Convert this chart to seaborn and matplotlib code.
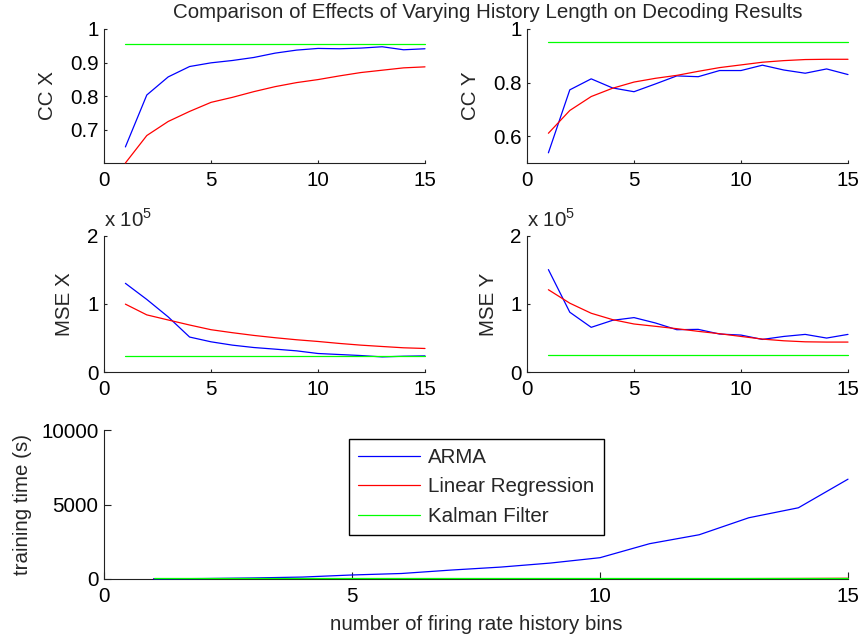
import numpy as np
import pandas as pd
import matplotlib
matplotlib.use("Agg")
import matplotlib.pyplot as plt
from matplotlib.colors import to_hex
from matplotlib.ticker import FuncFormatter
import seaborn as sns

# history length (bins)
bins = list(range(1, 16))
methods = ["ARMA", "Linear Regression", "Kalman Filter"]
colors = ["#0000ff", "#ff0000", "#00ff00"]

cc_x_arma = [0.648, 0.803, 0.857, 0.888, 0.899, 0.906, 0.915, 0.928, 0.937, 0.942, 0.941, 0.943, 0.947, 0.938, 0.941]
cc_x_lr = [0.600, 0.682, 0.724, 0.754, 0.781, 0.796, 0.813, 0.828, 0.840, 0.849, 0.860, 0.870, 0.877, 0.884, 0.887]
cc_x_kf = [0.955] * 15

cc_y_arma = [0.538, 0.773, 0.814, 0.780, 0.766, 0.795, 0.825, 0.822, 0.845, 0.845, 0.865, 0.847, 0.835, 0.851, 0.830]
cc_y_lr = [0.611, 0.696, 0.748, 0.779, 0.802, 0.816, 0.827, 0.842, 0.856, 0.866, 0.876, 0.882, 0.886, 0.887, 0.887]
cc_y_kf = [0.952] * 15

mse_x_arma = [130400, 106700, 81000, 51400, 44400, 39500, 36000, 33600, 31100, 27200, 25700, 24200, 22200, 23200, 23700]
mse_x_lr = [99800, 84000, 76500, 69100, 62200, 57800, 53800, 50400, 47400, 44900, 42000, 39500, 37500, 35600, 34600]
mse_x_kf = [23200] * 15

mse_y_arma = [150600, 87900, 65700, 76000, 80000, 72100, 62200, 62700, 55800, 54300, 47900, 52300, 55300, 49900, 55300]
mse_y_lr = [121000, 101200, 86400, 77000, 70600, 67200, 63700, 59800, 56300, 52300, 48400, 45900, 44400, 44000, 44000]
mse_y_kf = [24700] * 15

time_arma = [10, 30, 70, 130, 270, 370, 600, 800, 1070, 1430, 2370, 2970, 4110, 4780, 6700]
time_lr = [5, 5, 6, 6, 7, 8, 9, 10, 12, 14, 17, 21, 27, 35, 48]
time_kf = [35] * 15

# drawing order: Kalman on top, then ARMA, then linear regression
line_z = {"#0000ff": 3.5, "#ff0000": 2.0, "#00ff00": 4.0}


def long_frame(arma, lr, kf):
    return pd.DataFrame({
        "bins": bins * 3,
        "value": list(arma) + list(lr) + list(kf),
        "method": [m for m in methods for _ in bins],
    })


sns.set_theme(style="ticks")
plt.rcParams["font.family"] = ["Liberation Sans", "DejaVu Sans"]
plt.rcParams["mathtext.fontset"] = "custom"
plt.rcParams["mathtext.rm"] = "Liberation Sans"
plt.rcParams["axes.linewidth"] = 0.8
plt.rcParams["axes.edgecolor"] = "#222222"
FS = 14.8

W, H = 862, 636
fig = plt.figure(figsize=(W / 100, H / 100), dpi=100)


def add_ax(x0, y0, x1, y1):
    return fig.add_axes([x0 / W, 1 - y1 / H, (x1 - x0) / W, (y1 - y0) / H])


ax1 = add_ax(104, 29, 425, 163)
ax2 = add_ax(527, 29, 848, 163)
ax3 = add_ax(104, 236, 425, 372)
ax4 = add_ax(527, 236, 848, 372)
ax5 = add_ax(104, 430, 848, 579)

panels = [
    (ax1, long_frame(cc_x_arma, cc_x_lr, cc_x_kf), "CC X", (0.6, 1), [0.7, 0.8, 0.9, 1.0], -0.175),
    (ax2, long_frame(cc_y_arma, cc_y_lr, cc_y_kf), "CC Y", (0.5, 1), [0.6, 0.8, 1.0], -0.175),
    (ax3, long_frame(mse_x_arma, mse_x_lr, mse_x_kf), "MSE X", (0, 2e5), [0, 1e5, 2e5], -0.122),
    (ax4, long_frame(mse_y_arma, mse_y_lr, mse_y_kf), "MSE Y", (0, 2e5), [0, 1e5, 2e5], -0.119),
    (ax5, long_frame(time_arma, time_lr, time_kf), "training time (s)", (0, 10000), [0, 5000, 10000], -0.110),
]

for ax, df, ylab, ylim, yticks, labx in panels:
    sns.lineplot(data=df, x="bins", y="value", hue="method", hue_order=methods,
                 palette=colors, linewidth=0.9, ax=ax, legend=(ax is ax5),
                 zorder=3, clip_on=False)
    if ax is ax5:
        for ln in ax.lines:
            c = to_hex(ln.get_color())
            if c in line_z:
                ln.set_zorder(line_z[c])
    else:
        for ln in ax.lines:
            if to_hex(ln.get_color()) == "#00ff00":
                ln.set_zorder(4)
    ax.set_xlim(0, 15)
    ax.set_ylim(*ylim)
    ax.set_xticks([0, 5, 10, 15])
    ax.set_yticks(yticks)
    if ylim[1] > 1e4:
        ax.yaxis.set_major_formatter(FuncFormatter(lambda v, _: f"{v / 1e5:g}"))
        ax.text(0, 1.066, r"x 10$^5$", transform=ax.transAxes, fontsize=FS,
                ha="left", va="baseline")
    else:
        ax.yaxis.set_major_formatter(FuncFormatter(lambda v, _: f"{v:g}"))
    ax.set_xlabel("")
    ax.set_ylabel(ylab, fontsize=FS, va="center")
    ax.yaxis.set_label_coords(labx, 0.5)
    sns.despine(ax=ax)
    tl = 5 if ax is ax5 else 2.5
    ax.tick_params(direction="in", length=tl, width=0.8, labelsize=FS, colors="#222222")
    ax.tick_params(axis="x", pad=6)
    ax.tick_params(axis="y", pad=4)
    for lab in ax.get_xticklabels() + ax.get_yticklabels():
        lab.set_color("black")

ax5.set_xlabel("number of firing rate history bins", fontsize=FS, labelpad=6)
leg = ax5.legend(loc="upper center", bbox_to_anchor=(0.5007, 0.94), fontsize=FS,
                 frameon=True, fancybox=False, edgecolor="black", framealpha=1,
                 handlelength=3.0, handletextpad=0.4, labelspacing=0.5,
                 borderpad=0.45, borderaxespad=0)
leg.get_frame().set_linewidth(1.0)

fig.text(488 / W, 1 - 12 / H, "Comparison of Effects of Varying History Length on Decoding Results",
         ha="center", va="center", fontsize=FS)

fig.savefig("out.png", dpi=100)
